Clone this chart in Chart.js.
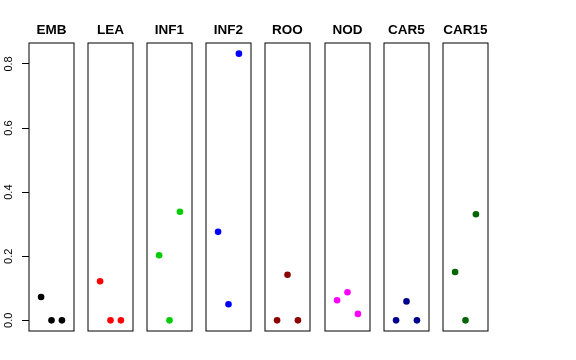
<!DOCTYPE html>
<html>
<head>
<meta charset="utf-8">
<script src="https://cdn.jsdelivr.net/npm/chart.js@4/dist/chart.umd.min.js"></script>
<style>
  body { margin: 0; background: #fff; }
  #wrap { position: relative; width: 576px; height: 360px; }
  .panel { position: absolute; top: 0; height: 333px; }
</style>
</head>
<body>
<div id="wrap"></div>
<script>
// panel names and point colours
const tissues = ['EMB', 'LEA', 'INF1', 'INF2', 'ROO', 'NOD', 'CAR5', 'CAR15'];
const colors = ['#000000', '#ff0000', '#00cd00', '#0000ff', '#8b0000', '#ff00ff', '#00008b', '#006400'];

// x position of the three points inside each panel
const positions = [1, 2, 3];

// values per panel
const emb = [0.073, 0, 0];
const lea = [0.122, 0, 0];
const inf1 = [0.203, 0, 0.339];
const inf2 = [0.276, 0.05, 0.832];
const roo = [0, 0.142, 0];
const nod = [0.0625, 0.0875, 0.02];
const car5 = [0, 0.059, 0];
const car15 = [0.151, 0, 0.331];

const yTicks = [0, 0.2, 0.4, 0.6, 0.8];

const allValues = [emb, lea, inf1, inf2, roo, nod, car5, car15];

// R style 4% axis extension
let lo = Math.min(...allValues.flat());
let hi = Math.max(...allValues.flat());
let pad = (hi - lo) * 0.04;
const yMin = lo - pad;
const yMax = hi + pad;

// frame around every panel
const boxPlugin = {
    id: 'panelBox',
    beforeDatasetsDraw(chart) {
        const a = chart.chartArea;
        const ctx = chart.ctx;
        ctx.save();
        ctx.strokeStyle = '#000';
        ctx.lineWidth = 1;
        ctx.strokeRect(Math.round(a.left), Math.round(a.top), Math.round(a.right - a.left), Math.round(a.bottom - a.top));
        ctx.restore();
    }
};

function makePanel(i) {
    let first = i === 0;
    let left = Math.round(29 + 59.1 * i);
    let div = document.createElement('div');
    div.className = 'panel';
    div.style.left = (first ? 0 : left - 2) + 'px';
    div.style.width = (first ? left + 45 + 2 : 49) + 'px';
    let canvas = document.createElement('canvas');
    div.appendChild(canvas);
    document.getElementById('wrap').appendChild(div);

    return new Chart(canvas, {
        type: 'scatter',
        data: {
            datasets: [{
                data: positions.map((x, k) => ({ x: x, y: allValues[i][k] })),
                backgroundColor: colors[i],
                borderColor: colors[i],
                borderWidth: 0,
                pointRadius: 3.3,
                pointHoverRadius: 3.3
            }]
        },
        options: {
            responsive: true,
            maintainAspectRatio: false,
            animation: false,
            events: [],
            clip: false,
            layout: {
                autoPadding: false,
                padding: { left: first ? 0 : 2, right: 2, top: 0, bottom: 2 }
            },
            scales: {
                x: {
                    type: 'linear',
                    display: false,
                    min: -0.16,
                    max: 4.16
                },
                y: {
                    display: first,
                    min: yMin,
                    max: yMax,
                    afterBuildTicks: function (scale) {
                        scale.ticks = yTicks.map(v => ({ value: v }));
                    },
                    afterFit: function (scale) {
                        if (!first) return;
                        scale.width = 29;
                        scale.paddingTop = 0;
                        scale.paddingBottom = 0;
                    },
                    grid: {
                        drawOnChartArea: false,
                        tickLength: 7,
                        color: '#000'
                    },
                    border: { display: false },
                    ticks: {
                        minRotation: 90,
                        maxRotation: 90,
                        crossAlign: 'center',
                        padding: 5,
                        color: '#000',
                        font: { size: 11, family: 'Liberation Sans' },
                        callback: function (value) {
                            return value.toFixed(1);
                        }
                    }
                }
            },
            plugins: {
                legend: { display: false },
                tooltip: { enabled: false },
                title: {
                    display: true,
                    text: tissues[i],
                    fullSize: false,
                    color: '#000',
                    font: { size: 13.5, weight: 'bold', family: 'Liberation Sans' },
                    padding: { top: 21.8, bottom: 5 }
                }
            }
        },
        plugins: [boxPlugin]
    });
}

for (let i = 0; i < tissues.length; i++) {
    makePanel(i);
}
</script>
</body>
</html>
